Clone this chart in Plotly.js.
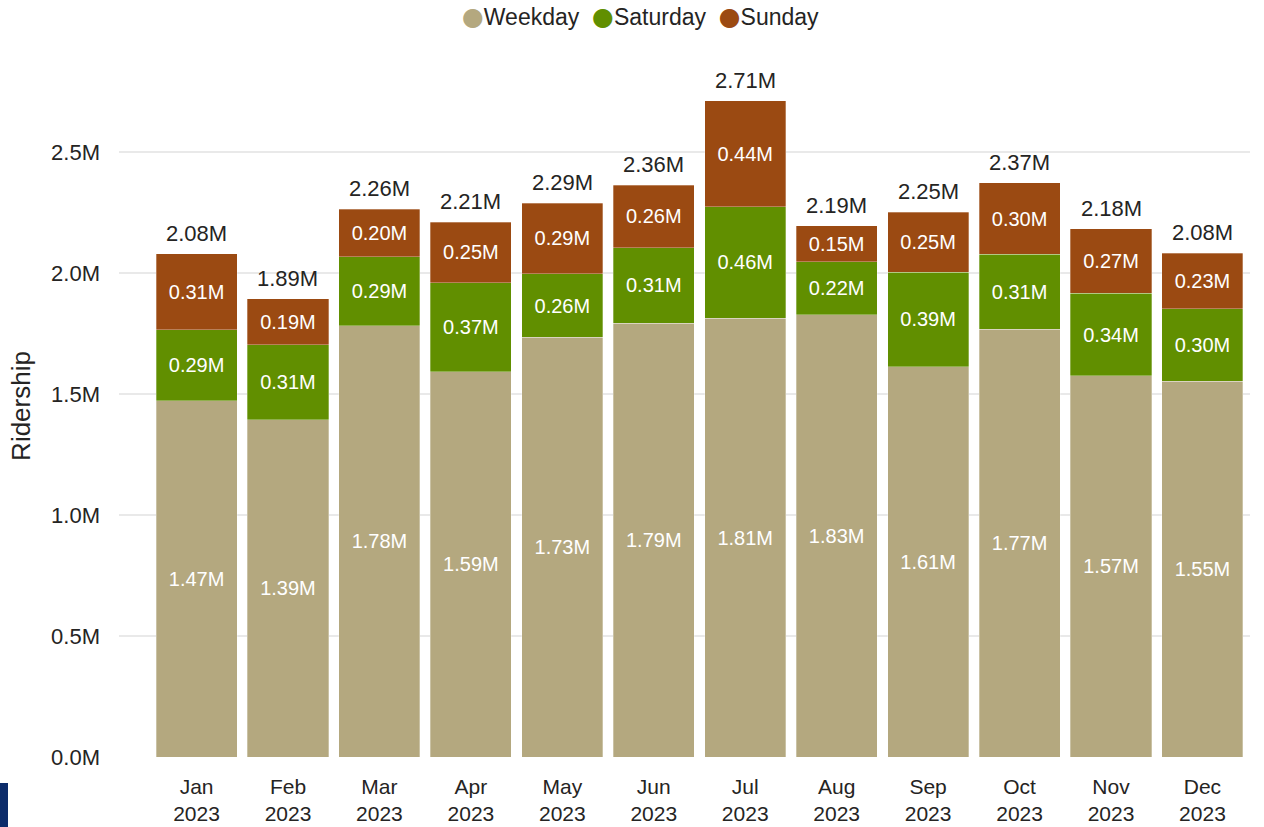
<!DOCTYPE html>
<html>
<head>
<meta charset="utf-8">
<script src="https://cdn.plot.ly/plotly-3.0.1.min.js"></script>
<style>
  html, body { margin: 0; padding: 0; background: #fff; }
  #chart { width: 1264px; height: 827px; }
  #corner { position: absolute; left: 0; top: 783px; width: 8px; height: 44px; background: #0c2c6a; }
</style>
</head>
<body>
<div id="chart"></div>
<div id="corner"></div>
<script>
// Values in millions of riders
const months = ['Jan<br>2023','Feb<br>2023','Mar<br>2023','Apr<br>2023','May<br>2023','Jun<br>2023',
                'Jul<br>2023','Aug<br>2023','Sep<br>2023','Oct<br>2023','Nov<br>2023','Dec<br>2023'];
const weekday  = [1.472, 1.394, 1.781, 1.592, 1.733, 1.792, 1.812, 1.828, 1.612, 1.768, 1.574, 1.553];
const saturday = [0.292, 0.310, 0.286, 0.368, 0.264, 0.312, 0.462, 0.218, 0.391, 0.308, 0.341, 0.298];
const sunday   = [0.314, 0.190, 0.196, 0.250, 0.291, 0.258, 0.438, 0.148, 0.248, 0.296, 0.268, 0.231];
const yTicks   = [0, 0.5, 1.0, 1.5, 2.0, 2.5];
const seriesNames = ['Weekday', 'Saturday', 'Sunday'];

const totals = months.map((m, i) => weekday[i] + saturday[i] + sunday[i]);
const fmt = v => v.toFixed(2) + 'M';

const colors = { Weekday: '#b4a87f', Saturday: '#618f00', Sunday: '#9b4a12' };
const FONT = 'Liberation Sans, Arial, sans-serif';
const TXT = '#252423';

function barTrace(name, vals) {
  return {
    type: 'bar', name: name, x: months, y: vals,
    marker: { color: colors[name], line: { color: 'rgba(255,255,255,0.6)', width: 0.5 } },
    text: vals.map(fmt), textposition: 'inside', insidetextanchor: 'middle',
    textangle: 0, constraintext: 'none',
    textfont: { color: '#ffffff', size: 20, family: FONT },
    hoverinfo: 'x+y+name', showlegend: false
  };
}

const data = [
  barTrace('Weekday', weekday),
  barTrace('Saturday', saturday),
  barTrace('Sunday', sunday)
];

const totalAnnotations = months.map((m, i) => ({
  x: m, y: totals[i], xref: 'x', yref: 'y',
  text: fmt(totals[i]), showarrow: false,
  yanchor: 'bottom', yshift: 6,
  font: { size: 22, color: TXT, family: FONT }
}));

const legendText = seriesNames.map(n =>
  `<span style="color:${colors[n]};font-family:DejaVu Sans;font-size:25px">●</span>${n}`).join('  ');

const legendAnnotation = {
  xref: 'paper', yref: 'paper', x: (640 - 119) / 1131, y: 1,
  yanchor: 'middle', yshift: (55 - 16),
  text: legendText, showarrow: false,
  font: { size: 23, color: TXT, family: FONT }
};

const layout = {
  width: 1264, height: 827,
  margin: { l: 119, r: 14, t: 55, b: 70 },
  barmode: 'stack', bargap: 0.114,
  paper_bgcolor: '#ffffff', plot_bgcolor: '#ffffff',
  font: { family: FONT, color: TXT },
  showlegend: false,
  annotations: totalAnnotations.concat([legendAnnotation]),
  xaxis: {
    type: 'category', range: [-0.848, 11.52],
    showgrid: false, zeroline: false, showline: false, ticks: '',
    ticklabelstandoff: 15,
    tickfont: { size: 21, color: TXT, family: FONT }, fixedrange: true
  },
  yaxis: {
    range: [0, 2.9], tickvals: yTicks, ticktext: yTicks.map(v => v.toFixed(1) + 'M'),
    showgrid: true, gridcolor: '#e9e9e9', gridwidth: 1.5,
    zeroline: false, showline: false, ticks: '',
    ticklabelstandoff: 18,
    tickfont: { size: 22, color: TXT, family: FONT },
    title: { text: 'Ridership', font: { size: 26, color: TXT, family: FONT }, standoff: 12 },
    fixedrange: true
  }
};

Plotly.newPlot('chart', data, layout, { displayModeBar: false, staticPlot: true });
</script>
</body>
</html>
